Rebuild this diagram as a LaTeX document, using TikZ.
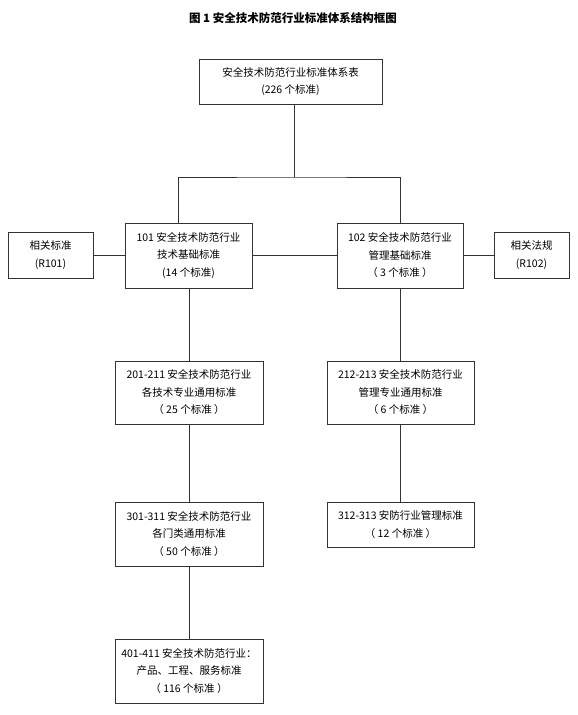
\documentclass[tikz,border=0pt]{standalone}
\usepackage{fontspec}
\setmainfont{Noto Sans CJK SC}

\begin{document}
\begin{tikzpicture}[x=1pt, y=-1pt,
    box/.style={draw=black!80, line width=0.8pt, align=center, inner sep=0pt,
      font=\fontsize{10.5}{17.5}\selectfont},
    link/.style={draw=black!80, line width=0.8pt}]
  \useasboundingbox (0,0) rectangle (578,715);

  % Title
  \node (title) at (293,18) {\fontsize{11.5}{14}\selectfont\bfseries 图 1 安全技术防范行业标准体系结构框图};

  % Level 0
  \node[box, minimum width=183, minimum height=45] (top) at (290.5,81.5)
    {安全技术防范行业标准体系表\\(226 个标准)};

  % Level 1 and related boxes
  \node[box, minimum width=85, minimum height=46] (xgbz) at (50.5,255) {相关标准\\(R101)};
  \node[box, minimum width=127, minimum height=65] (jc) at (188.5,255.5)
    {101 安全技术防范行业\\技术基础标准\\(14 个标准)};
  \node[box, minimum width=126, minimum height=65] (gl) at (400,255.5)
    {102 安全技术防范行业\\管理基础标准\\（ 3 个标准 ）};
  \node[box, minimum width=75, minimum height=46] (xgfg) at (531.5,255) {相关法规\\(R102)};

  % Level 2
  \node[box, minimum width=148, minimum height=63] (js2) at (189,392.5)
    {201-211 安全技术防范行业\\各技术专业通用标准\\（ 25 个标准 ）};
  \node[box, minimum width=147, minimum height=63] (gl2) at (400.5,392.5)
    {212-213 安全技术防范行业\\管理专业通用标准\\（ 6 个标准 ）};

  % Level 3
  \node[box, minimum width=148, minimum height=64] (ml3) at (189,534)
    {301-311 安全技术防范行业\\各门类通用标准\\（ 50 个标准 ）};
  \node[box, minimum width=147, minimum height=45] (gl3) at (400.5,524.5)
    {312-313 安防行业管理标准\\（ 12 个标准 ）};

  % Level 4
  \node[box, minimum width=148, minimum height=64] (cp4) at (189,671)
    {401-411 安全技术防范行业：\\产品、工程、服务标准\\（ 116 个标准 ）};

  % Fork under the top box
  \coordinate (fk) at (294,177);
  \coordinate (jcup) at ([xshift=-10.5]jc.north);

  % Connections
  \draw[link] (top.south -| fk) -- (fk);
  \draw[link] (jcup) |- (fk) -| (gl.north);
  \draw[link] (xgbz.east) -- (xgbz.east -| jc.west);
  \draw[link] (jc.east) -- (gl.west);
  \draw[link] (gl.east) -- (gl.east -| xgfg.west);
  \draw[link] (jc.south -| js2.north) -- (js2.north);
  \draw[link] (js2.south) -- (ml3.north);
  \draw[link] (ml3.south) -- (cp4.north);
  \draw[link] (gl.south -| gl2.north) -- (gl2.north);
  \draw[link] (gl2.south) -- (gl3.north);
\end{tikzpicture}
\end{document}
